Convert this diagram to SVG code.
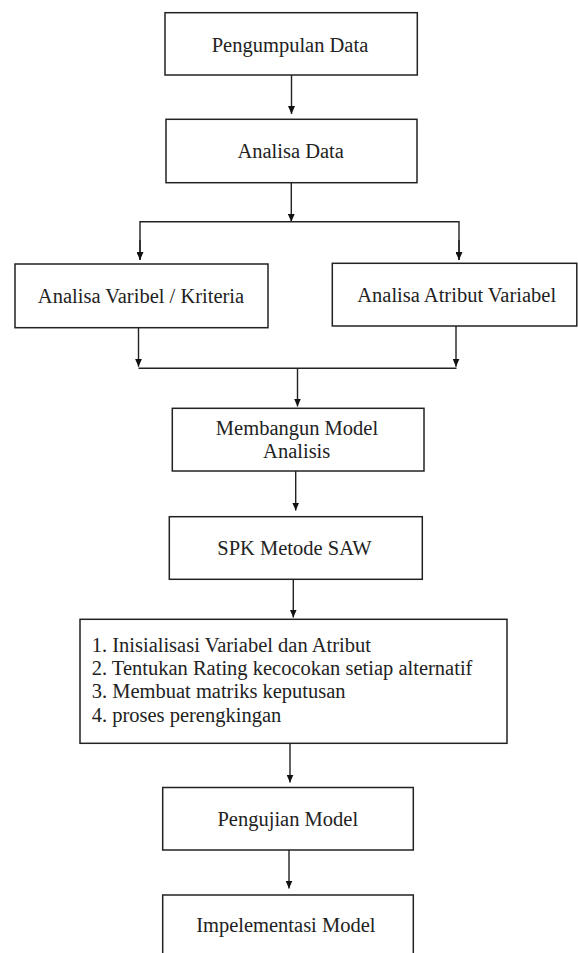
<svg xmlns="http://www.w3.org/2000/svg" width="578" height="953" viewBox="0 0 578 953">
<style>
.box{fill:#fff;stroke:#222;stroke-width:1.5}
.t{font-family:'Liberation Serif','Times New Roman',Tinos,'DejaVu Serif',serif;font-size:20.5px;fill:#222}
.c{text-anchor:middle}
.ln{stroke:#222;stroke-width:1.4;fill:none}
</style>
<defs>
<marker id="ah" markerUnits="userSpaceOnUse" markerWidth="8" markerHeight="7" refX="8" refY="3.5" orient="auto" viewBox="0 0 8 7">
<path d="M0,0 L8,3.5 L0,7 Z" fill="#111"/>
</marker>
</defs>
<rect width="578" height="953" fill="#fff"/>
<g id="connectors">
<line class="ln" x1="291.5" y1="75" x2="291.5" y2="114" marker-end="url(#ah)"/>
<line class="ln" x1="291.3" y1="182.7" x2="291.3" y2="221.7" marker-end="url(#ah)"/>
<polyline class="ln" points="140,260 140,221.7 459,221.7 459,260"/>
<line class="ln" x1="140" y1="240" x2="140" y2="260" marker-end="url(#ah)"/>
<line class="ln" x1="459" y1="240" x2="459" y2="260" marker-end="url(#ah)"/>
<line class="ln" x1="138.5" y1="327.7" x2="138.5" y2="366.7" marker-end="url(#ah)"/>
<line class="ln" x1="456" y1="326" x2="456" y2="366.7" marker-end="url(#ah)"/>
<line class="ln" x1="138.5" y1="368.3" x2="456.5" y2="368.3"/>
<line class="ln" x1="297.5" y1="368.3" x2="297.5" y2="406.5" marker-end="url(#ah)"/>
<line class="ln" x1="295.7" y1="471" x2="295.7" y2="510.5" marker-end="url(#ah)"/>
<line class="ln" x1="293.3" y1="579.3" x2="293.3" y2="617.5" marker-end="url(#ah)"/>
<line class="ln" x1="290" y1="743.3" x2="290" y2="782.5" marker-end="url(#ah)"/>
<line class="ln" x1="289" y1="850" x2="289" y2="888.5" marker-end="url(#ah)"/>
</g>
<g id="pengumpulan">
<rect class="box" x="165" y="12.7" width="252.3" height="62.3"/>
<text class="t c" x="290" y="52" font-family="Liberation Serif, serif">Pengumpulan Data</text>
</g>
<g id="analisa-data">
<rect class="box" x="166" y="119.3" width="251" height="63.4"/>
<text class="t c" x="290.7" y="158.3" font-family="Liberation Serif, serif">Analisa Data</text>
</g>
<g id="analisa-varibel">
<rect class="box" x="15" y="264" width="253" height="63.7"/>
<text class="t c" x="141" y="302.7" font-family="Liberation Serif, serif">Analisa Varibel / Kriteria</text>
</g>
<g id="analisa-atribut">
<rect class="box" x="332.3" y="263.3" width="244.5" height="62.7"/>
<text class="t c" x="456.7" y="301.7" font-family="Liberation Serif, serif">Analisa Atribut Variabel</text>
</g>
<g id="membangun">
<rect class="box" x="172.3" y="408.3" width="251.7" height="62.7"/>
<text class="t c" x="297" y="435" font-family="Liberation Serif, serif">Membangun Model</text>
<text class="t c" x="296.7" y="458" font-family="Liberation Serif, serif">Analisis</text>
</g>
<g id="spk">
<rect class="box" x="169.3" y="516.7" width="253" height="62.6"/>
<text class="t c" x="294.5" y="555" font-family="Liberation Serif, serif">SPK Metode SAW</text>
</g>
<g id="langkah">
<rect class="box" x="80" y="619.3" width="427" height="124"/>
<text class="t" x="91.7" y="651.7" font-family="Liberation Serif, serif">1. Inisialisasi Variabel dan Atribut</text>
<text class="t" x="91.7" y="675" font-family="Liberation Serif, serif">2. Tentukan Rating kecocokan setiap alternatif</text>
<text class="t" x="91.7" y="698.3" font-family="Liberation Serif, serif">3. Membuat matriks keputusan</text>
<text class="t" x="91.7" y="721.7" font-family="Liberation Serif, serif">4. proses perengkingan</text>
</g>
<g id="pengujian">
<rect class="box" x="162.7" y="787.5" width="250.6" height="62.5"/>
<text class="t c" x="287.8" y="826" font-family="Liberation Serif, serif">Pengujian Model</text>
</g>
<g id="implementasi">
<rect class="box" x="162.7" y="895" width="250.6" height="70"/>
<text class="t c" x="285.8" y="931.7" font-family="Liberation Serif, serif">Impelementasi Model</text>
</g>
</svg>
